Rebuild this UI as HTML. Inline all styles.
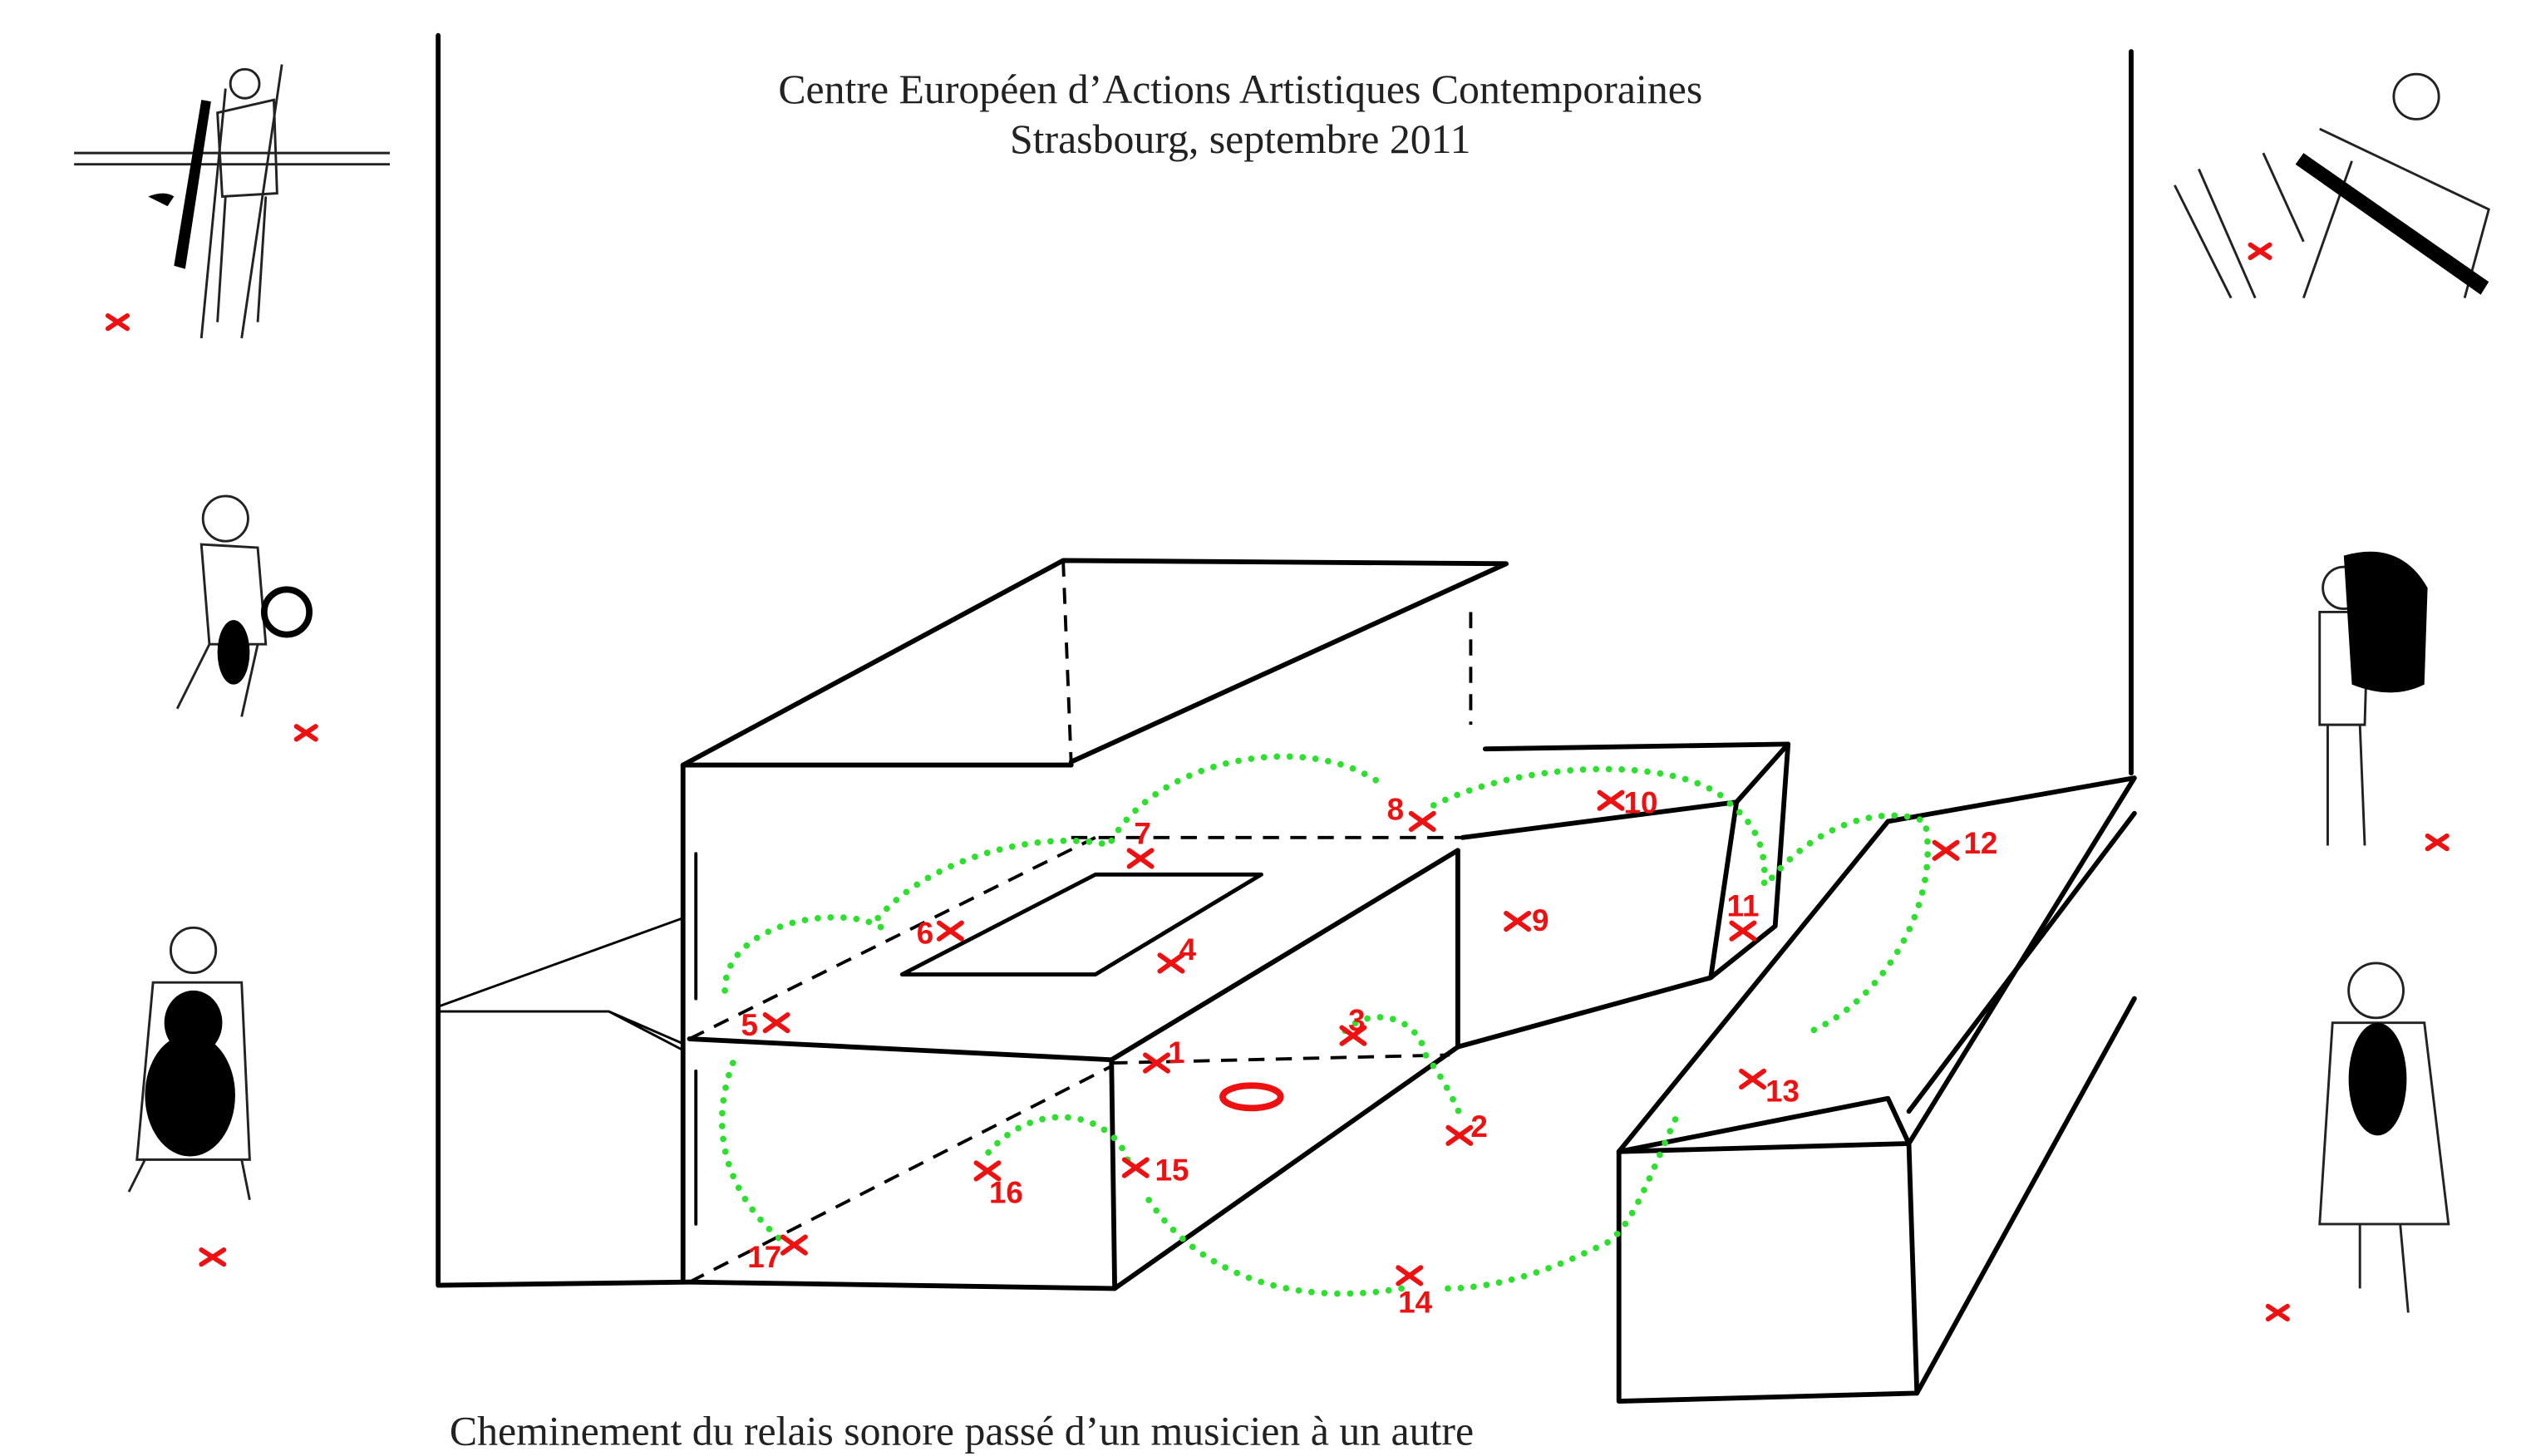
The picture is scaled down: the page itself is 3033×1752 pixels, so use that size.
<!DOCTYPE html>
<html><head><meta charset="utf-8"><style>
html,body{margin:0;padding:0;background:#fff;}
svg{display:block;}
</style></head><body>
<svg width="3033" height="1752" viewBox="0 0 1565 904" xmlns="http://www.w3.org/2000/svg">
<rect width="1565" height="904" fill="#fff"/>
<g font-family="Liberation Serif, serif" font-size="25.7" fill="#222" text-anchor="middle">
<text x="770" y="64">Centre Européen d’Actions Artistiques Contemporaines</text>
<text x="770" y="95">Strasbourg, septembre 2011</text>
<text x="597" y="897">Cheminement du relais sonore passé d’un musicien à un autre</text>
</g>
<g stroke="#000" stroke-width="3" fill="none" stroke-linecap="round" stroke-linejoin="round">
<path d="M272,22 L272,798 L428,796"/>
<path d="M1323,32 L1323,480"/>
<path d="M424,475 L424,796"/>
<path d="M424,475 L660,348 L935,350 L665,473"/>
<path d="M424,475 L665,475"/>
<path d="M428,645 L690,658 L905,528"/>
<path d="M690,658 L692,800 L428,796"/>
<path d="M692,800 L905,650 L905,528"/>
<path d="M560,605 L680,543 L783,543 L680,605 Z" stroke-width="2.5"/>
<path d="M272,625 L424,570 M272,628 L378,628 L424,648 M378,628 L424,652" stroke-width="1.5"/>
<path d="M922,465 L1110,462 L1078,498 L908,520"/>
<path d="M1110,462 L1102,575 L1062,607 L1078,498"/>
<path d="M905,650 L1062,607"/>
<path d="M1005,715 L1172,510 L1325,483 L1185,710 Z"/>
<path d="M1005,715 L1005,870 L1190,865 L1185,710"/>
<path d="M1190,865 L1325,620 M1325,505 L1185,690"/>
<path d="M1005,715 L1172,682 L1185,710"/>
<path d="M432,530 L432,620 M432,665 L432,760" stroke-width="2"/>
</g>
<g stroke="#000" stroke-width="2" fill="none" stroke-dasharray="10 7">
<path d="M660,348 L665,475"/>
<path d="M428,645 L680,520"/>
<path d="M428,796 L690,662"/>
<path d="M665,520 L908,520"/>
<path d="M690,660 L900,655"/>
<path d="M913,380 L913,450"/>
</g>
<g stroke="#2ee02e" stroke-width="4" fill="none" stroke-linecap="round" stroke-dasharray="0 8">
<path d="M450,615 C450,570 530,560 550,578"/>
<path d="M545,570 C580,530 650,515 690,525"/>
<path d="M690,522 C720,470 810,455 855,485"/>
<path d="M890,500 C950,470 1050,470 1075,500 C1100,520 1095,545 1095,555"/>
<path d="M1100,545 C1130,510 1170,500 1195,510 C1205,560 1170,620 1125,640"/>
<path d="M1040,695 C1020,740 1010,770 990,775 C940,800 905,800 898,800"/>
<path d="M870,800 C800,812 740,790 710,740"/>
<path d="M700,720 C690,690 640,680 610,720"/>
<path d="M455,660 C440,700 450,740 485,770"/>
<path d="M835,640 C850,625 880,630 885,655 C900,675 905,690 908,695"/>
</g>
<g stroke="#ee1111" stroke-width="3" stroke-linecap="round">
<path d="M711,655 l14,10 M711,665 l14,-10"/>
<path d="M899,700 l14,10 M899,710 l14,-10"/>
<path d="M833,638 l14,10 M833,648 l14,-10"/>
<path d="M720,593 l14,10 M720,603 l14,-10"/>
<path d="M475,630 l14,10 M475,640 l14,-10"/>
<path d="M583,573 l14,10 M583,583 l14,-10"/>
<path d="M701,528 l14,10 M701,538 l14,-10"/>
<path d="M876,505 l14,10 M876,515 l14,-10"/>
<path d="M935,567 l14,10 M935,577 l14,-10"/>
<path d="M993,492 l14,10 M993,502 l14,-10"/>
<path d="M1075,573 l14,10 M1075,583 l14,-10"/>
<path d="M1201,523 l14,10 M1201,533 l14,-10"/>
<path d="M1081,665 l14,10 M1081,675 l14,-10"/>
<path d="M868,787 l14,10 M868,797 l14,-10"/>
<path d="M698,720 l14,10 M698,730 l14,-10"/>
<path d="M606,722 l14,10 M606,732 l14,-10"/>
<path d="M486,768 l14,10 M486,778 l14,-10"/>
<path d="M67,196 l12,8 M67,204 l12,-8"/>
<path d="M184,451 l12,8 M184,459 l12,-8"/>
<path d="M125,776 l14,9 M125,785 l14,-9"/>
<path d="M1397,152 l12,8 M1397,160 l12,-8"/>
<path d="M1507,519 l12,8 M1507,527 l12,-8"/>
<path d="M1408,811 l12,8 M1408,819 l12,-8"/>
</g>
<ellipse cx="777" cy="681" rx="18" ry="7" fill="none" stroke="#ee1111" stroke-width="4"/>
<g font-family="Liberation Sans, sans-serif" font-weight="bold" font-size="19" fill="#ee1111">
<text x="725" y="660">1</text><text x="913" y="706">2</text><text x="837" y="640">3</text>
<text x="732" y="596">4</text><text x="460" y="643">5</text><text x="569" y="586">6</text>
<text x="704" y="524">7</text><text x="861" y="509">8</text><text x="951" y="578">9</text>
<text x="1008" y="505">10</text><text x="1072" y="569">11</text><text x="1219" y="530">12</text>
<text x="1096" y="684">13</text><text x="868" y="815">14</text><text x="717" y="733">15</text>
<text x="614" y="747">16</text><text x="464" y="787">17</text>
</g>
<g stroke="#222" stroke-width="1.5" fill="none">
<path d="M46,95 L242,95 M46,102 L242,102"/>
<path d="M125,210 L140,55 M150,210 L175,40"/>
<circle cx="152" cy="52" r="9"/>
<path d="M135,70 L170,62 L172,120 L138,122 Z M140,122 L135,200 M165,122 L160,200"/>
<circle cx="140" cy="322" r="14"/>
<path d="M125,338 L160,340 L165,400 L130,400 Z M130,400 L110,440 M160,400 L150,445"/>
<circle cx="120" cy="590" r="14"/>
<path d="M95,610 L150,610 L155,720 L85,720 Z M90,720 L80,740 M150,720 L155,745"/>
<circle cx="1500" cy="60" r="14"/>
<path d="M1440,80 L1545,130 L1530,185 M1460,100 L1430,185 M1350,115 L1385,185 M1365,105 L1400,185 M1405,95 L1430,150"/>
<circle cx="1455" cy="365" r="13"/>
<path d="M1440,380 L1470,380 L1468,450 L1440,450 Z M1445,450 L1445,525 M1465,450 L1468,525"/>
<circle cx="1475" cy="615" r="17"/>
<path d="M1448,635 L1505,635 L1520,760 L1440,760 Z M1465,760 L1465,800 M1490,760 L1495,815"/>
</g>
<g fill="#000">
<path d="M108,165 L125,62 L131,63 L115,167 Z"/>
<path d="M92,122 q10,-4 16,0 l-4,6 q-6,-3 -12,-6Z"/>
<ellipse cx="145" cy="405" rx="10" ry="20"/>
<circle cx="178" cy="380" r="14" fill="none" stroke="#000" stroke-width="4"/>
<ellipse cx="118" cy="680" rx="28" ry="38"/>
<ellipse cx="120" cy="635" rx="18" ry="20"/>
<path d="M1430,95 L1545,175 L1540,183 L1425,102 Z"/>
<path d="M1455,345 q35,-10 52,20 l-2,60 q-20,10 -45,0 Z"/>
<ellipse cx="1476" cy="670" rx="18" ry="35"/>
</g>
</svg>
</body></html>
